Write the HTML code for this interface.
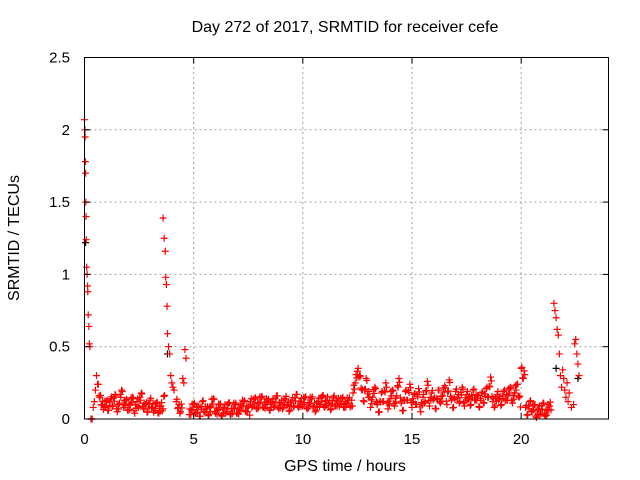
<!DOCTYPE html>
<html><head><meta charset="utf-8"><style>
body{margin:0;background:#fff}
svg{display:block;font-family:"Liberation Sans",sans-serif}
</style></head><body>
<svg id="chart" width="640" height="480" viewBox="0 0 640 480" xmlns="http://www.w3.org/2000/svg">
<rect width="640" height="480" fill="#fff"/>
<text x="345" y="32" font-size="16" text-anchor="middle">Day 272 of 2017, SRMTID for receiver cefe</text>
<text x="345" y="471" font-size="16" text-anchor="middle">GPS time / hours</text>
<text transform="translate(19,238) rotate(-90)" font-size="16" text-anchor="middle">SRMTID / TECUs</text>
<g id="grid"></g>
<g id="marks"></g>
<rect x="84.5" y="57.5" width="524" height="361.5" fill="none" stroke="#000" stroke-width="1"/>
<g id="axes"></g>
</svg>
<script>
const xTicks=[0,5,10,15,20];
const yTicks=[0,0.5,1,1.5,2,2.5];
const yTickLabels=["0","0.5","1","1.5","2","2.5"];
const spike1Hours=[0,0.02,0.03,0.04,0.05,0.06,0.07,0.08,0.1,0.12,0.14,0.15,0.17,0.2,0.22,0.25,0.3,0.35,0.4,0.45,0.5,0.55];
const spike1Values=[2.07,2.0,1.95,1.78,1.7,1.5,1.4,1.24,1.05,1.0,0.92,0.88,0.72,0.64,0.52,0.5,0.0,0.0,0.08,0.12,0.2,0.3];
const spike2Hours=[3.6,3.65,3.7,3.72,3.75,3.78,3.8,3.85,3.9,3.95,4.0,4.05,4.1,4.5,4.55,4.6,4.65,21.5,21.55,21.6,21.65,21.7,21.75,21.8,21.85,21.9,21.95,22.0,22.05,22.1,22.15,22.2,22.3,22.4,22.45,22.5,22.55,22.6,22.65];
const spike2Values=[1.39,1.25,1.16,0.98,0.93,0.78,0.59,0.5,0.45,0.3,0.25,0.22,0.2,0.28,0.25,0.48,0.42,0.8,0.75,0.7,0.62,0.58,0.45,0.3,0.22,0.34,0.28,0.2,0.15,0.25,0.12,0.18,0.08,0.1,0.52,0.55,0.45,0.38,0.3];
const segStart=[0.6,4.2,4.8,7.6,12.3,13.1,20.0,20.2];
const segValues=[
[.24,.15,.1,.08,.12,.06,.14,.09,.17,.05,.11,.2,.08,.13,.06,.1,.15,.04,.12,.09,.18,.07,.1,.05,.13,.08,.06,.11,.04,.09,.07],
[.12,.08,.05],
[.03,.06,.1,.04,.08,.02,.12,.05,.07,.03,.09,.14,.04,.06,.1,.02,.08,.05,.11,.03,.07,.1,.04,.06,.09,.12,.05,.08],
[.12,.09,.14,.07,.11,.15,.08,.1,.13,.06,.12,.09,.16,.07,.11,.08,.14,.1,.06,.13,.09,.17,.08,.12,.1,.15,.07,.11,.14,.09,.06,.12,.1,.16,.08,.13,.11,.07,.15,.09,.12,.1,.14,.08,.11,.13,.09],
[.18,.25,.33,.3,.2,.12,.28,.15],
[.08,.15,.22,.1,.05,.18,.12,.25,.07,.14,.2,.09,.16,.28,.11,.06,.19,.13,.24,.08,.17,.1,.21,.05,.15,.12,.26,.09,.18,.14,.07,.2,.11,.16,.23,.1,.27,.13,.08,.19,.15,.12,.22,.09,.17,.14,.1,.2,.13,.16,.08,.18,.11,.21,.15,.29,.12,.09,.17,.14,.1,.19,.13,.16,.22,.11,.18,.24,.15],
[.35,.28],
[.08,.03,.12,.05,.1,.01,.07,.04,.11,.02,.06,.09]];
const segStep=0.1;
const blackHours=[0.05,0.3,3.8,21.6,22.6];
const blackValues=[1.22,0.0,0.45,0.35,0.28];

const X0=84.5,X1=608.5,Y0=419,Y1=57.5,XMAX=24,YMAX=2.5;
const xs=h=>X0+(X1-X0)*h/XMAX;
const ys=v=>Y0-(Y0-Y1)*v/YMAX;
const NS="http://www.w3.org/2000/svg";
const grid=document.getElementById('grid'),axes=document.getElementById('axes'),marks=document.getElementById('marks');
function mk(tag,attrs,parent){const e=document.createElementNS(NS,tag);for(const k in attrs)e.setAttribute(k,attrs[k]);parent.appendChild(e);return e;}
xTicks.forEach(t=>{const x=xs(t);
 if(t>0){const g=mk('line',{x1:x,x2:x,y1:Y0,y2:Y1,stroke:'#a0a0a0','stroke-dasharray':'2,3'},grid);
 
 }
 const a=mk('line',{x1:x,x2:x,y1:Y0,y2:Y0-6,stroke:'#000'},axes);
 
 
 const b=mk('line',{x1:x,x2:x,y1:Y1,y2:Y1+6,stroke:'#000'},axes);
 
 
 const l=mk('text',{x:x,y:444,'font-size':15,'text-anchor':'middle'},axes);l.textContent=String(t);
 
 });
yTicks.forEach((t,i)=>{const y=ys(t);
 if(t>0&&t<YMAX){const g=mk('line',{x1:X0,x2:X1,y1:y,y2:y,stroke:'#a0a0a0','stroke-dasharray':'2,3'},grid);
 
 }
 const a=mk('line',{x1:X0,x2:X0+6,y1:y,y2:y,stroke:'#000'},axes);
 
 
 const b=mk('line',{x1:X1,x2:X1-6,y1:y,y2:y,stroke:'#000'},axes);
 
 
 const l=mk('text',{x:70,y:y+5,'font-size':15,'text-anchor':'end'},axes);l.textContent=yTickLabels[i];
 
 });
function plus(h,v,color,name){const x=xs(h),y=ys(v);
 const p=mk('path',{d:`M${x-3.5},${y}H${x+3.5}M${x},${y-3.5}V${y+3.5}`,stroke:color,'stroke-width':1.2,fill:'none'},marks);
 
 }
blackHours.forEach((h,i)=>plus(h,blackValues[i],'#000','point-black'));
spike1Hours.forEach((h,i)=>plus(h,spike1Values[i],'#f00','point'));
spike2Hours.forEach((h,i)=>plus(h,spike2Values[i],'#f00','point'));
segValues.forEach((vals,s)=>vals.forEach((v,i)=>{const n=vals[(i+1)%vals.length];
 plus(segStart[s]+i*segStep,v,'#f00','point');
 plus(segStart[s]+i*segStep+segStep/3,(2*v+n)/3+0.03,'#f00','point');
 plus(segStart[s]+i*segStep+2*segStep/3,(v+2*n)/3-0.02,'#f00','point');}));
</script>
</body></html>
